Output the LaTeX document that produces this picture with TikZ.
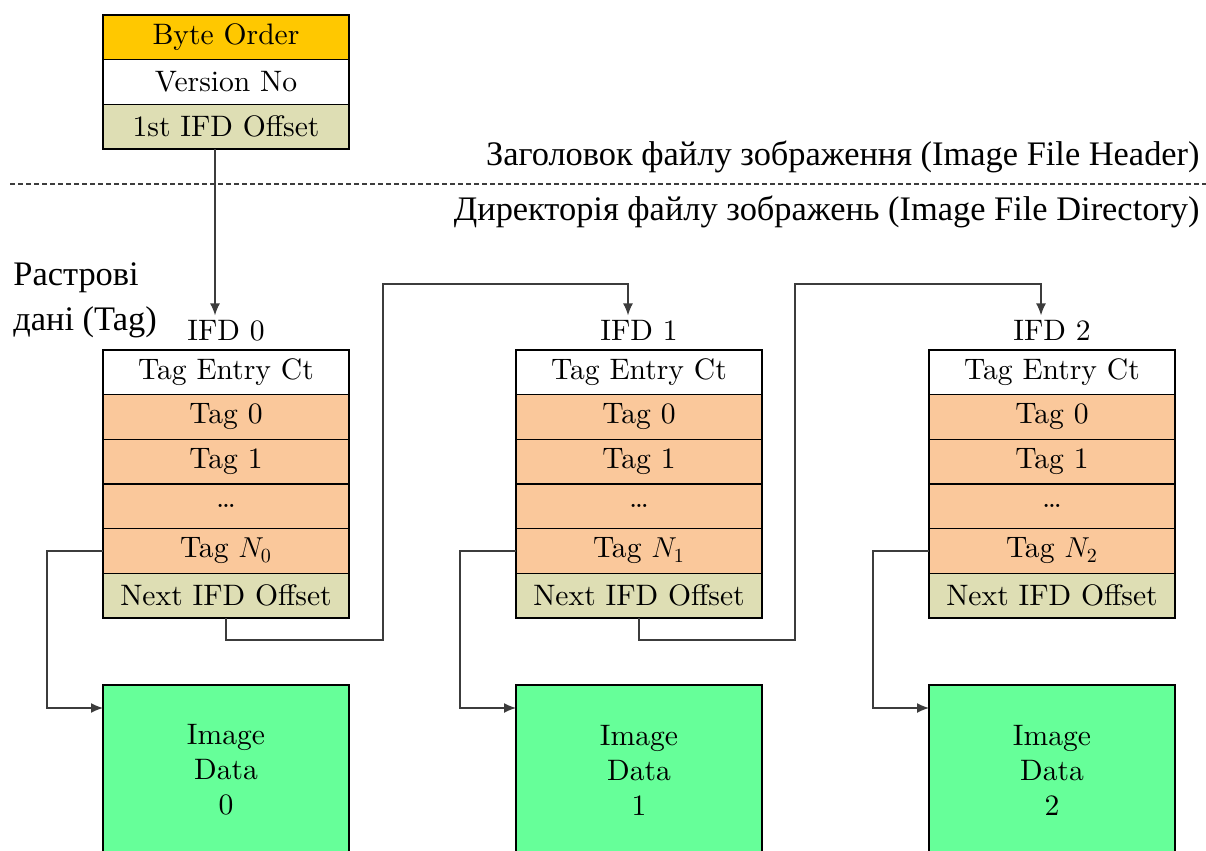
\documentclass[tikz,border=0pt]{standalone}
\usepackage{amsmath}
\usepackage{fontspec}
\newfontfamily\uafont{Liberation Serif}
\newfontfamily\boxfont{lmroman10-regular.otf}
\usetikzlibrary{positioning,arrows.meta}
\definecolor{byteclr}{RGB}{255,200,0}
\definecolor{tagclr}{RGB}{250,200,155}
\definecolor{offclr}{RGB}{222,222,180}
\definecolor{dataclr}{RGB}{102,255,153}
\definecolor{lineclr}{RGB}{60,60,60}

\begin{document}
\begin{tikzpicture}[x=0.5pt, y=-0.5pt,
    cell/.style = {draw, line width=0.8pt, minimum width=123pt, minimum height=22.33pt, inner sep=0pt, outer sep=0pt, font=\boxfont\fontsize{14.8}{17.5}\selectfont},
    tagcell/.style = {cell, fill=tagclr},
    offcell/.style = {cell, fill=offclr},
    datab/.style = {cell, fill=dataclr, minimum height=85pt, align=center},
    ifdlbl/.style = {inner sep=2pt, font=\boxfont\fontsize{14.8}{17.5}\selectfont},
    uatext/.style = {inner sep=0pt, font=\uafont\fontsize{17.2}{22.5}\selectfont},
    link/.style = {draw=lineclr, line width=0.7pt, -{Latex[length=6pt,width=5pt]}}]
    \useasboundingbox (0,0) rectangle (1206,851);
    % header
    \node[cell, fill=byteclr, anchor=north] (byte) at (226,15) {Byte Order};
    \node[cell, fill=white, below=0pt of byte] (ver) {Version No};
    \node[offcell, below=0pt of ver] (first) {1st IFD Offset};
    \node[uatext, anchor=east] (hdrtxt) at (1200,157) {Заголовок файлу зображення (Image File Header)};
    \draw[lineclr, line width=0.6pt, dash pattern=on 2.5pt off 1.5pt] (10,184) -- (1206,184);
    \node[uatext, anchor=east] (dirtxt) at (1200,212) {Директорія файлу зображень (Image File Directory)};
    \node[uatext, anchor=west, align=left] (rastr) at (13,300) {Растрові\\дані (Tag)};
    % directories
    \foreach \i/\x in {0/226, 1/639, 2/1052} {
        \node[ifdlbl, anchor=base] (ifd\i) at (\x,340) {IFD \i};
        \node[cell, fill=white, anchor=north] (ct\i) at (\x,350) {Tag Entry Ct};
        \node[tagcell, below=0pt of ct\i] (ta\i) {Tag 0};
        \node[tagcell, below=0pt of ta\i] (tb\i) {Tag 1};
        \node[tagcell, below=0pt of tb\i] (td\i) {\dots};
        \node[tagcell, below=0pt of td\i] (tn\i) {Tag $N_{\i}$};
        \node[offcell, below=0pt of tn\i] (nx\i) {Next IFD Offset};
        \node[datab, anchor=north] (img\i) at (\x,685) {Image\\Data\\\i};
        \draw[link] (tn\i.west) -- ++(-56,0) |- ([yshift=-11.5pt]img\i.north west);
    }
    \draw[link] ([xshift=-5.5pt]first.south) -- ([xshift=-5.5pt]ifd0.north);
    \foreach \i/\j/\xm in {0/1/383, 1/2/795}
        \draw[link] (nx\i.south) -- ++(0,22) -| (\xm,284) -| ([xshift=-5.5pt]ifd\j.north);
\end{tikzpicture}
\end{document}
